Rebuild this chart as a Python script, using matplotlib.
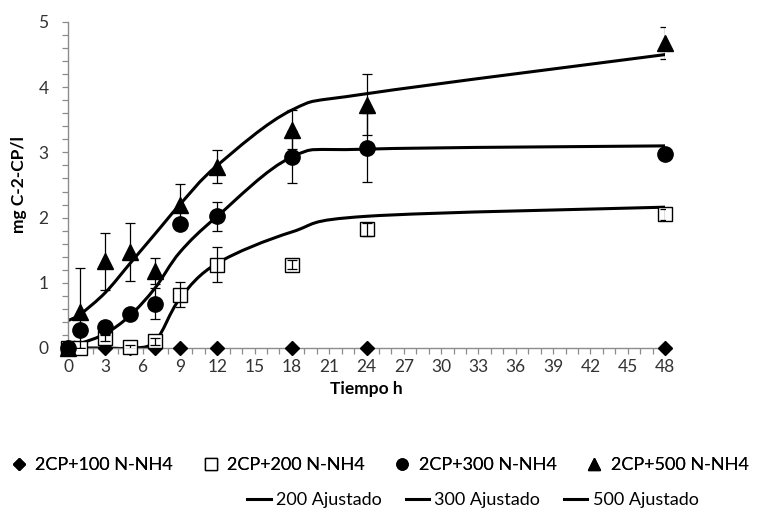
import numpy as np
import matplotlib
matplotlib.use("Agg")
import matplotlib.pyplot as plt
from matplotlib.path import Path
from matplotlib.patches import PathPatch
from matplotlib.lines import Line2D
from matplotlib.ticker import MultipleLocator

plt.rcParams['font.family'] = ['Lato', 'DejaVu Sans']

# Sampling times (h)
t = [0, 1, 3, 5, 7, 9, 12, 18, 24, 48]

# Measured 2-CP carbon (mg C-2-CP/l) and standard deviations
y100 = [0, 0, 0, 0, 0, 0, 0, 0, 0, 0]
y200 = [0, 0, 0.15, 0.02, 0.10, 0.82, 1.28, 1.28, 1.82, 2.05]
e200 = [0, 0, 0.05, 0.03, 0.05, 0.19, 0.27, 0.07, 0.10, 0.08]
y300 = [0, 0.28, 0.32, 0.52, 0.68, 1.90, 2.02, 2.93, 3.07, 2.97]
e300 = [0, 0, 0.10, 0.03, 0.24, 0.05, 0.22, 0.40, 0.53, 0.05]
y500 = [0, 0.55, 1.33, 1.47, 1.18, 2.20, 2.78, 3.35, 3.73, 4.68]
e500 = [0, 0.68, 0.44, 0.45, 0.20, 0.32, 0.25, 0.30, 0.47, 0.25]

# Model-fitted values at the sampling times
f200 = [0, 0, 0, 0, 0.10, 0.76, 1.30, 1.78, 2.02, 2.16]
f300 = [0.02, 0.07, 0.22, 0.50, 0.92, 1.47, 2.02, 2.93, 3.05, 3.10]
f500 = [0.42, 0.52, 0.85, 1.30, 1.75, 2.20, 2.80, 3.65, 3.90, 4.50]

labels_meas = ["2CP+100 N-NH4", "2CP+200 N-NH4", "2CP+300 N-NH4", "2CP+500 N-NH4"]
labels_fit = ["200 Ajustado", "300 Ajustado", "500 Ajustado"]


def smooth_path(x, y):
    """Cubic Bezier path through the points (spreadsheet-style smoothed line)."""
    p = np.column_stack([x, y]).astype(float)
    n = len(p)
    verts = [p[0]]
    codes = [Path.MOVETO]
    for i in range(n - 1):
        p0 = p[i - 1] if i > 0 else p[i]
        p1 = p[i]
        p2 = p[i + 1]
        p3 = p[i + 2] if i + 2 < n else p[i + 1]
        c1 = p1 + (p2 - p0) / 6.0
        c2 = p2 - (p3 - p1) / 6.0
        verts += [c1, c2, p2]
        codes += [Path.CURVE4] * 3
    return Path(verts, codes)


fig = plt.figure(figsize=(7.58, 5.12), dpi=100)
ax = fig.add_axes([68 / 758, 1 - 348 / 512, (665 - 68) / 758, (348 - 22) / 512])

# fitted curves
for f in (f200, f300, f500):
    ax.add_patch(PathPatch(smooth_path(t, f), fill=False, edgecolor='black',
                           lw=2.2, zorder=2, capstyle='round'))

mk = dict(linestyle='none', clip_on=False, zorder=3)
ax.plot(t, y100, marker='D', ms=7.6, color='black', **mk)
ax.plot(t, y200, marker='s', ms=10, mfc='white', mec='black', mew=1.0, **mk)
ax.plot(t, y300, marker='o', ms=11, color='black', **mk)
ax.plot(t, y500, marker='^', ms=11.5, color='black', **mk)

eb = dict(fmt='none', ecolor='black', elinewidth=0.9, capsize=3.5, capthick=0.9, zorder=4)
ax.errorbar(t, y200, yerr=e200, **eb)
ax.errorbar(t, y300, yerr=e300, **eb)
ax.errorbar(t, y500, yerr=e500, **eb)

ax.set_xlim(0, 48)
ax.set_ylim(0, 5)
ax.xaxis.set_major_locator(MultipleLocator(3))
ax.xaxis.set_minor_locator(MultipleLocator(1))
ax.yaxis.set_major_locator(MultipleLocator(1))
ax.yaxis.set_minor_locator(MultipleLocator(0.2))

for s in ('top', 'right'):
    ax.spines[s].set_visible(False)
for s in ('left', 'bottom'):
    ax.spines[s].set_color('#8c8c8c')
    ax.spines[s].set_linewidth(1.0)

ax.tick_params(which='both', direction='out', color='#8c8c8c', width=0.9)
ax.tick_params(which='major', length=4, labelsize=12.5, labelcolor='#333333')
ax.tick_params(which='minor', length=4)
ax.tick_params(axis='x', pad=4)
ax.tick_params(axis='y', pad=10)

ax.set_xlabel("Tiempo h", fontsize=12.5, fontweight='bold', labelpad=4)
ax.set_ylabel("mg C-2-CP/l", fontsize=12.5, fontweight='bold', labelpad=8)

# legend rows
h_meas = [
    Line2D([], [], linestyle='none', marker='D', ms=6, color='black'),
    Line2D([], [], linestyle='none', marker='s', ms=8, mfc='white', mec='black', mew=1.0),
    Line2D([], [], linestyle='none', marker='o', ms=8, color='black'),
    Line2D([], [], linestyle='none', marker='^', ms=8, color='black'),
]
h_fit = [Line2D([], [], color='black', lw=2.2) for _ in labels_fit]

leg1 = fig.legend(h_meas, labels_meas, loc='center', bbox_to_anchor=(380 / 758, 1 - 465 / 512),
                  ncol=4, frameon=False, fontsize=13, handlelength=0.8, handletextpad=0.5,
                  columnspacing=1.7)
leg2 = fig.legend(h_fit, labels_fit, loc='center', bbox_to_anchor=(473 / 758, 1 - 500 / 512),
                  ncol=3, frameon=False, fontsize=13, handlelength=1.3, handletextpad=0.3,
                  columnspacing=1.3)
fig.add_artist(leg1)

fig.savefig("out.png", dpi=100)
